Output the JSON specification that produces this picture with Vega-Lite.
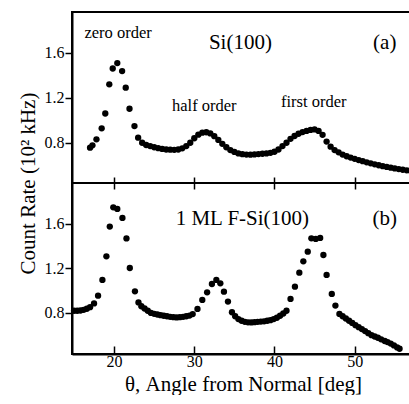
{
  "$schema": "https://vega.github.io/schema/vega-lite/v6.json",
  "padding": {"left": 16, "top": 11, "right": 0, "bottom": 0},
  "bounds": "flush",
  "spacing": 0,
  "background": "white",
  "config": {
    "font": "Liberation Serif",
    "view": {"stroke": "black", "strokeWidth": 2},
    "axis": {
      "domainColor": "black", "domainWidth": 2, "tickColor": "black", "tickWidth": 1.5,
      "labelColor": "black", "labelFont": "Liberation Serif", "labelFontSize": 16, "labelOverlap": false,
      "titleColor": "black", "titleFont": "Liberation Serif", "titleFontSize": 21, "titleFontWeight": "normal",
      "grid": false
    }
  },
  "datasets": {
    "si100": [
      {"theta": 17.0, "rate": 0.756}, {"theta": 17.3, "rate": 0.777}, {"theta": 17.8, "rate": 0.83},
      {"theta": 18.45, "rate": 0.928}, {"theta": 18.9, "rate": 1.06}, {"theta": 19.4, "rate": 1.319},
      {"theta": 19.83, "rate": 1.46}, {"theta": 20.4, "rate": 1.508}, {"theta": 21.0, "rate": 1.437},
      {"theta": 21.45, "rate": 1.289}, {"theta": 21.92, "rate": 1.102}, {"theta": 22.54, "rate": 0.948},
      {"theta": 23.0, "rate": 0.845}, {"theta": 23.5, "rate": 0.8}, {"theta": 24.0, "rate": 0.78},
      {"theta": 24.5, "rate": 0.77}, {"theta": 25.0, "rate": 0.76}, {"theta": 25.5, "rate": 0.752},
      {"theta": 26.0, "rate": 0.745}, {"theta": 26.5, "rate": 0.74}, {"theta": 27.0, "rate": 0.738},
      {"theta": 27.5, "rate": 0.737}, {"theta": 28.0, "rate": 0.74}, {"theta": 28.5, "rate": 0.75},
      {"theta": 29.0, "rate": 0.77}, {"theta": 29.5, "rate": 0.8}, {"theta": 30.0, "rate": 0.84},
      {"theta": 30.5, "rate": 0.872}, {"theta": 31.0, "rate": 0.889}, {"theta": 31.5, "rate": 0.893},
      {"theta": 32.0, "rate": 0.883}, {"theta": 32.5, "rate": 0.858}, {"theta": 33.0, "rate": 0.825},
      {"theta": 33.5, "rate": 0.79}, {"theta": 34.0, "rate": 0.76}, {"theta": 34.5, "rate": 0.735},
      {"theta": 35.0, "rate": 0.718}, {"theta": 35.5, "rate": 0.705}, {"theta": 36.0, "rate": 0.698},
      {"theta": 36.5, "rate": 0.695}, {"theta": 37.0, "rate": 0.694}, {"theta": 37.5, "rate": 0.696},
      {"theta": 38.0, "rate": 0.699}, {"theta": 38.5, "rate": 0.702}, {"theta": 39.0, "rate": 0.705},
      {"theta": 39.5, "rate": 0.71}, {"theta": 40.0, "rate": 0.72}, {"theta": 40.5, "rate": 0.74},
      {"theta": 41.0, "rate": 0.77}, {"theta": 41.5, "rate": 0.8}, {"theta": 42.0, "rate": 0.835},
      {"theta": 42.5, "rate": 0.86}, {"theta": 43.0, "rate": 0.88}, {"theta": 43.5, "rate": 0.895},
      {"theta": 44.0, "rate": 0.905}, {"theta": 44.5, "rate": 0.914}, {"theta": 45.0, "rate": 0.918},
      {"theta": 45.5, "rate": 0.905}, {"theta": 46.0, "rate": 0.87}, {"theta": 46.5, "rate": 0.81},
      {"theta": 47.0, "rate": 0.765}, {"theta": 47.5, "rate": 0.735}, {"theta": 48.0, "rate": 0.715},
      {"theta": 48.5, "rate": 0.695}, {"theta": 49.0, "rate": 0.68}, {"theta": 49.5, "rate": 0.668},
      {"theta": 50.0, "rate": 0.657}, {"theta": 50.5, "rate": 0.646}, {"theta": 51.0, "rate": 0.636},
      {"theta": 51.5, "rate": 0.626}, {"theta": 52.0, "rate": 0.617}, {"theta": 52.5, "rate": 0.608},
      {"theta": 53.0, "rate": 0.6}, {"theta": 53.5, "rate": 0.592}, {"theta": 54.0, "rate": 0.585},
      {"theta": 54.5, "rate": 0.578}, {"theta": 55.0, "rate": 0.572}, {"theta": 55.5, "rate": 0.566},
      {"theta": 56.0, "rate": 0.56}, {"theta": 56.5, "rate": 0.555}, {"theta": 57.0, "rate": 0.55}
    ],
    "fsi100": [
      {"theta": 15.0, "rate": 0.82}, {"theta": 15.4, "rate": 0.82}, {"theta": 15.8, "rate": 0.822},
      {"theta": 16.2, "rate": 0.828}, {"theta": 16.6, "rate": 0.838}, {"theta": 17.0, "rate": 0.852},
      {"theta": 17.5, "rate": 0.886}, {"theta": 18.0, "rate": 0.955}, {"theta": 18.54, "rate": 1.097},
      {"theta": 19.04, "rate": 1.309}, {"theta": 19.46, "rate": 1.576}, {"theta": 19.9, "rate": 1.749},
      {"theta": 20.4, "rate": 1.735}, {"theta": 21.04, "rate": 1.654}, {"theta": 21.54, "rate": 1.47},
      {"theta": 21.96, "rate": 1.204}, {"theta": 22.6, "rate": 0.994}, {"theta": 23.04, "rate": 0.895},
      {"theta": 23.4, "rate": 0.86}, {"theta": 23.8, "rate": 0.84}, {"theta": 24.2, "rate": 0.82},
      {"theta": 24.6, "rate": 0.8}, {"theta": 25.0, "rate": 0.792}, {"theta": 25.4, "rate": 0.786},
      {"theta": 25.8, "rate": 0.78}, {"theta": 26.2, "rate": 0.775}, {"theta": 26.6, "rate": 0.77},
      {"theta": 27.0, "rate": 0.765}, {"theta": 27.4, "rate": 0.762}, {"theta": 27.8, "rate": 0.76},
      {"theta": 28.2, "rate": 0.762}, {"theta": 28.6, "rate": 0.765}, {"theta": 29.0, "rate": 0.77},
      {"theta": 29.4, "rate": 0.776}, {"theta": 29.8, "rate": 0.79}, {"theta": 30.4, "rate": 0.836},
      {"theta": 31.0, "rate": 0.917}, {"theta": 31.6, "rate": 0.985}, {"theta": 32.2, "rate": 1.06},
      {"theta": 32.75, "rate": 1.097}, {"theta": 33.25, "rate": 1.066}, {"theta": 33.7, "rate": 0.991},
      {"theta": 34.2, "rate": 0.902}, {"theta": 34.7, "rate": 0.806}, {"theta": 35.1, "rate": 0.77},
      {"theta": 35.5, "rate": 0.745}, {"theta": 35.9, "rate": 0.73}, {"theta": 36.3, "rate": 0.72},
      {"theta": 36.7, "rate": 0.716}, {"theta": 37.1, "rate": 0.715}, {"theta": 37.5, "rate": 0.717},
      {"theta": 37.9, "rate": 0.72}, {"theta": 38.3, "rate": 0.722}, {"theta": 38.7, "rate": 0.725},
      {"theta": 39.1, "rate": 0.73}, {"theta": 39.5, "rate": 0.735}, {"theta": 39.9, "rate": 0.745},
      {"theta": 40.3, "rate": 0.757}, {"theta": 40.7, "rate": 0.775}, {"theta": 41.1, "rate": 0.795},
      {"theta": 41.5, "rate": 0.82}, {"theta": 42.0, "rate": 0.926}, {"theta": 42.55, "rate": 1.036},
      {"theta": 43.1, "rate": 1.162}, {"theta": 43.6, "rate": 1.264}, {"theta": 44.15, "rate": 1.351},
      {"theta": 44.6, "rate": 1.471}, {"theta": 45.15, "rate": 1.465}, {"theta": 45.7, "rate": 1.474},
      {"theta": 46.1, "rate": 1.321}, {"theta": 46.5, "rate": 1.142}, {"theta": 47.15, "rate": 0.971},
      {"theta": 47.6, "rate": 0.866}, {"theta": 48.1, "rate": 0.791}, {"theta": 48.5, "rate": 0.77},
      {"theta": 48.9, "rate": 0.75}, {"theta": 49.3, "rate": 0.73}, {"theta": 49.7, "rate": 0.71},
      {"theta": 50.1, "rate": 0.69}, {"theta": 50.5, "rate": 0.672}, {"theta": 50.9, "rate": 0.655},
      {"theta": 51.3, "rate": 0.637}, {"theta": 51.7, "rate": 0.618}, {"theta": 52.1, "rate": 0.6},
      {"theta": 52.5, "rate": 0.588}, {"theta": 52.9, "rate": 0.577}, {"theta": 53.3, "rate": 0.563},
      {"theta": 53.75, "rate": 0.548}, {"theta": 54.1, "rate": 0.538}, {"theta": 54.5, "rate": 0.525},
      {"theta": 54.9, "rate": 0.508}, {"theta": 55.3, "rate": 0.49}, {"theta": 55.6, "rate": 0.478}
    ]
  },
  "vconcat": [
    {
      "width": 342,
      "height": 171,
      "resolve": {"axis": {"x": "independent", "y": "independent"}},
      "layer": [
        {
          "data": {"name": "si100"},
          "mark": {"type": "circle", "size": 40, "color": "black", "opacity": 1},
          "encoding": {
            "x": {"field": "theta", "type": "quantitative",
                  "scale": {"domain": [14.75, 57.4], "nice": false, "zero": false},
                  "axis": {"orient": "bottom", "values": [20, 30, 40, 50], "labels": false, "domain": false,
                           "offset": -6, "tickSize": 12, "title": null}},
            "y": {"field": "rate", "type": "quantitative",
                  "scale": {"domain": [0.442, 1.962], "nice": false, "zero": false},
                  "axis": {"orient": "left", "values": [0.8, 1.2, 1.6], "format": ".1f",
                           "tickSize": 7, "labelPadding": 1,
                           "title": "Count Rate (10² kHz)", "titleY": 171, "titlePadding": 6}}
          }
        },
        {
          "data": {"values": [
            {"theta": 20.5, "rate": 1.775, "label": "zero order"},
            {"theta": 31.25, "rate": 1.126, "label": "half order"},
            {"theta": 44.9, "rate": 1.162, "label": "first order"}
          ]},
          "mark": {"type": "text", "fontSize": 16.5, "color": "black", "align": "center", "baseline": "middle"},
          "encoding": {
            "x": {"field": "theta", "type": "quantitative", "axis": null},
            "y": {"field": "rate", "type": "quantitative", "axis": null},
            "text": {"field": "label"}
          }
        },
        {
          "data": {"values": [
            {"theta": 35.75, "rate": 1.686, "label": "Si(100)"},
            {"theta": 53.75, "rate": 1.686, "label": "(a)"}
          ]},
          "mark": {"type": "text", "fontSize": 21, "color": "black", "align": "center", "baseline": "middle"},
          "encoding": {
            "x": {"field": "theta", "type": "quantitative", "axis": null},
            "y": {"field": "rate", "type": "quantitative", "axis": null},
            "text": {"field": "label"}
          }
        }
      ]
    },
    {
      "width": 342,
      "height": 171,
      "resolve": {"axis": {"x": "independent", "y": "independent"}},
      "layer": [
        {
          "data": {"name": "fsi100"},
          "mark": {"type": "circle", "size": 40, "color": "black", "opacity": 1},
          "encoding": {
            "x": {"field": "theta", "type": "quantitative",
                  "scale": {"domain": [14.75, 57.4], "nice": false, "zero": false},
                  "axis": {"orient": "bottom", "values": [20, 30, 40, 50], "tickSize": -8, "labelPadding": 7,
                           "title": "θ, Angle from Normal [deg]", "titlePadding": 4}},
            "y": {"field": "rate", "type": "quantitative",
                  "scale": {"domain": [0.431, 1.968], "nice": false, "zero": false},
                  "axis": {"orient": "left", "values": [0.8, 1.2, 1.6], "format": ".1f",
                           "tickSize": 7, "labelPadding": 1,
                           "title": null}}
          }
        },
        {
          "data": {"values": [
            {"theta": 36.0, "rate": 1.648, "label": "1 ML F-Si(100)"},
            {"theta": 53.75, "rate": 1.648, "label": "(b)"}
          ]},
          "mark": {"type": "text", "fontSize": 21, "color": "black", "align": "center", "baseline": "middle"},
          "encoding": {
            "x": {"field": "theta", "type": "quantitative", "axis": null},
            "y": {"field": "rate", "type": "quantitative", "axis": null},
            "text": {"field": "label"}
          }
        }
      ]
    }
  ]
}
